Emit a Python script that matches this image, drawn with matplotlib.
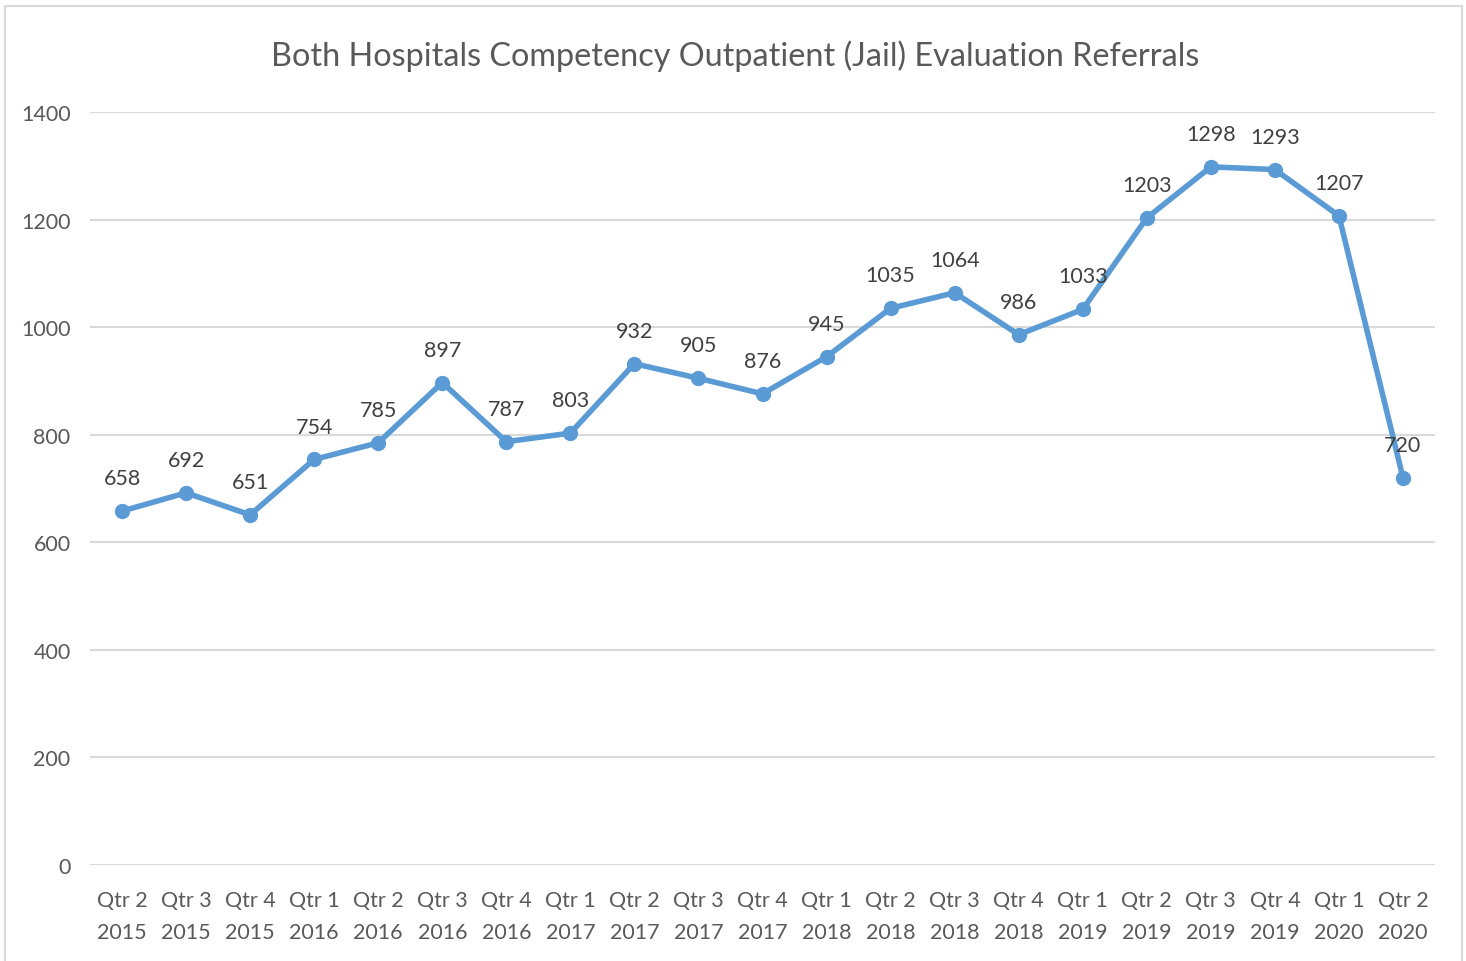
import matplotlib
matplotlib.use("Agg")
import matplotlib.pyplot as plt
from matplotlib.patches import Rectangle

quarters = ["Qtr 2\n2015", "Qtr 3\n2015", "Qtr 4\n2015", "Qtr 1\n2016", "Qtr 2\n2016", "Qtr 3\n2016",
            "Qtr 4\n2016", "Qtr 1\n2017", "Qtr 2\n2017", "Qtr 3\n2017", "Qtr 4\n2017", "Qtr 1\n2018",
            "Qtr 2\n2018", "Qtr 3\n2018", "Qtr 4\n2018", "Qtr 1\n2019", "Qtr 2\n2019", "Qtr 3\n2019",
            "Qtr 4\n2019", "Qtr 1\n2020", "Qtr 2\n2020"]
referrals = [658, 692, 651, 754, 785, 897, 787, 803, 932, 905, 876, 945,
             1035, 1064, 986, 1033, 1203, 1298, 1293, 1207, 720]
y_ticks = [0, 200, 400, 600, 800, 1000, 1200, 1400]

plt.rcParams['font.family'] = ['Lato', 'DejaVu Sans']
TXT = '#595959'
LINE = '#5B9BD5'

fig = plt.figure(figsize=(14.66, 9.62), dpi=100)
fig.patches.append(Rectangle((5/1466, -0.01), (1462-5)/1466, (962-7)/962 + 0.01,
                             transform=fig.transFigure, fill=False, edgecolor='#D9D9D9', lw=1.5))
ax = fig.add_axes([90/1466, 96/962, (1435-90)/1466, (866-113)/962])

x = list(range(len(quarters)))
ax.plot(x, referrals, color=LINE, lw=4, marker='o', markersize=10, zorder=3, solid_capstyle='round')
for xi, v in zip(x, referrals):
    ax.annotate(str(v), (xi, v), xytext=(0, 16.5), textcoords='offset points',
                ha='center', va='bottom', fontsize=15.5, color='#404040', zorder=4)

ax.set_xlim(-0.5, len(quarters) - 0.5)
ax.set_ylim(0, 1400)
ax.set_yticks(y_ticks)
ax.set_yticklabels([str(t) for t in y_ticks])
ax.set_xticks(x)
ax.set_xticklabels(quarters, linespacing=1.75)
ax.tick_params(axis='both', length=0, labelsize=15.5, labelcolor=TXT)
ax.tick_params(axis='y', pad=14)
ax.tick_params(axis='x', pad=18)
ax.grid(axis='y', color='#D9D9D9', lw=1.5)
ax.set_axisbelow(True)
for s in ax.spines.values():
    s.set_visible(False)

fig.text(735/1466, 1 - 56/962, "Both Hospitals Competency Outpatient (Jail) Evaluation Referrals",
         ha='center', va='center', fontsize=23.3, color=TXT)

fig.savefig("out.png", dpi=100)
